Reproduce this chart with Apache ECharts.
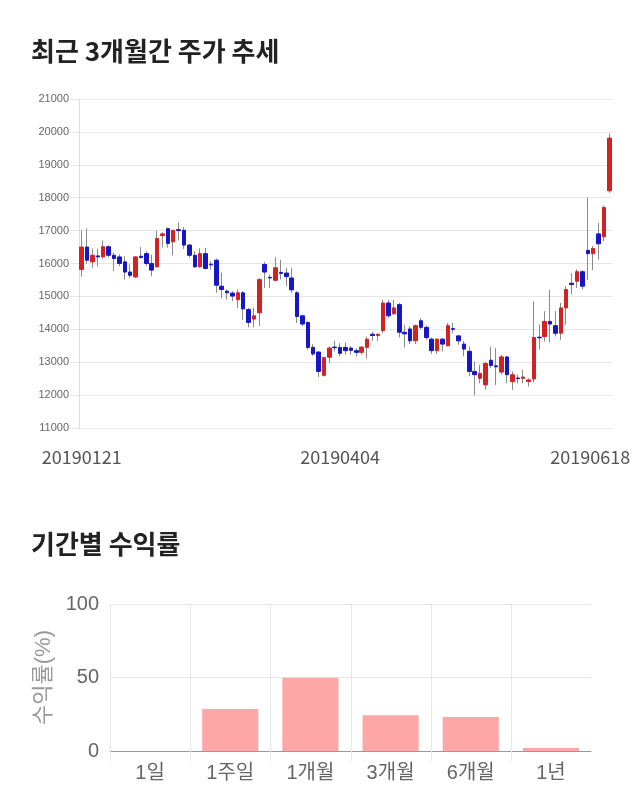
<!DOCTYPE html>
<html>
<head>
<meta charset="utf-8">
<script src="https://cdn.jsdelivr.net/npm/echarts@6/dist/echarts.min.js"></script>
<style>
html,body{margin:0;padding:0;background:#fff;}
#main{width:640px;height:810px;}
</style>
</head>
<body>
<div id="main"></div>
<script>
// ---- candlestick data (trading days) ----
var dates = [
'20190121','20190122','20190123','20190124','20190125','20190128','20190129','20190130','20190131',
'20190207','20190208','20190211','20190212','20190213','20190214','20190215','20190218','20190219','20190220','20190221','20190222','20190225','20190226','20190227','20190228',
'20190304','20190305','20190306','20190307','20190308','20190311','20190312','20190313','20190314','20190315','20190318','20190319','20190320','20190321','20190322','20190325','20190326','20190327','20190328','20190329',
'20190401','20190402','20190403',
'20190404','20190405','20190408','20190409','20190410','20190411','20190412','20190415','20190416','20190417','20190418','20190419','20190422','20190423','20190424','20190425','20190426','20190429','20190430',
'20190502','20190503','20190507','20190508','20190509','20190510','20190513','20190514','20190515','20190516','20190517','20190520','20190521','20190522','20190523','20190524','20190527','20190528','20190529','20190530','20190531',
'20190603','20190604','20190605','20190607','20190610','20190611','20190612','20190613','20190614','20190617','20190618'
];
var opens = [
15820,16500,16050,16230,16200,16510,16250,16200,16050,15740,15590,16220,16300,16000,15900,16850,17060,16660,17030,17010,
16560,16250,15900,16300,15980,16100,15310,15160,15100,14900,15110,14600,14310,14500,15970,15580,15490,15730,15710,15560,
15110,14410,14210,13450,13310,12600,13150,13460,13450,13450,13430,13350,13300,13450,13850,13810,13960,14800,14470,14750,
13910,14010,13650,14260,14060,13700,13350,13700,13500,14020,13800,13550,13330,12720,12510,12310,13060,12890,12700,13160,
12410,12520,12510,12410,12490,13760,13780,14240,14110,13880,14650,15400,15460,15750,16400,16300,16900,16810,18210
];
var closes = [
16500,16100,16250,16200,16510,16250,16150,16000,15740,15640,16200,16180,16000,15800,16760,16900,16610,17010,17000,16560,
16250,15900,16300,15850,15960,15340,15210,15110,15010,15110,14620,14210,14410,15510,15740,15560,15870,15700,15600,15200,
14390,14160,13450,13250,12720,13140,13430,13440,13270,13350,13360,13300,13460,13700,13810,13850,14800,14410,14650,13910,
13860,13650,14110,14060,13750,13350,13700,13550,14110,14000,13650,13400,12720,12620,12660,12960,12900,12860,13160,12620,
12620,12500,12550,12460,13750,13740,14240,14160,13880,14650,15210,15360,15750,15310,16300,16460,16600,17700,19810
];
var lows = [
15600,16000,15870,15900,16150,16180,15770,15920,15510,15560,15560,16150,15920,15610,15870,16480,16480,16250,16700,16440,
16180,15870,15870,15820,15820,15110,14950,14900,14850,14650,14290,14060,14060,14090,15260,15260,15460,15510,15310,15110,
14190,14090,13380,13190,12550,12570,12970,13330,13190,13230,13230,13170,13230,13110,13650,13650,13890,14350,14450,13750,
13450,13550,13550,13990,13680,13250,13250,13330,13480,13880,13530,13180,12570,12000,12360,12160,12820,12310,12620,12360,
12160,12360,12360,12260,12390,13380,13630,13600,13780,13680,14140,15060,15260,15210,15500,15800,16120,16680,18150
];
var highs = [
17000,17070,16450,16450,16700,16550,16330,16280,16220,15980,16220,16500,16370,16270,17000,16950,17090,17020,17250,17110,
16600,16370,16460,16470,16070,16150,15720,15210,15160,15210,15160,14650,14650,15560,16050,15670,16190,16110,15870,15870,
15160,14440,14240,13550,13330,13170,13480,13650,13580,13600,13480,13430,13480,13780,13930,13880,14900,14900,14900,14800,
14140,14090,14140,14340,14110,13750,13730,13730,14190,14190,13830,13650,13480,13020,12920,13010,13470,13430,13220,13170,
12720,12620,12770,12510,14850,14140,14550,15200,14550,14800,15310,15710,15820,15790,18000,16530,17230,17760,19950
];
var priceTicks = [11000, 21000, 1000]; // min, max, step

// ---- period return data ----
var periods = ['1일', '1주일', '1개월', '3개월', '6개월', '1년'];
var returns = [0, 28.6, 49.8, 24.3, 23.1, 2.0];
var returnTicks = [0, 100, 50]; // min, max, step

// ---- build series data from arrays ----
var fullCandles = dates.map(function (d, i) { return [opens[i], closes[i], lows[i], highs[i]]; });
var bodies = dates.map(function (d, i) {
  return [opens[i], closes[i], Math.min(opens[i], closes[i]), Math.max(opens[i], closes[i])];
});
var boundaries = periods.map(function (p, i) { return [i]; }); // left edge of every period band
var UP = '#d42222', DOWN = '#1616c4', WICK = '#8a8a8a';
var labelIdx = [0, 48, dates.length - 1];
var FONT = "'Liberation Sans', 'Noto Sans CJK KR', sans-serif";
var KFONT = "'Noto Sans CJK KR', sans-serif";
var GRIDC = '#e6e6e6';

var chart = echarts.init(document.getElementById('main'), null, {renderer: 'canvas'});
chart.setOption({
  animation: false,
  backgroundColor: '#fff',
  title: [
    {text: '최근 3개월간 주가 추세', left: 26, top: 33,
     textStyle: {fontSize: 26, fontWeight: 'bold', color: '#222', fontFamily: KFONT}},
    {text: '기간별 수익률', left: 26, top: 526,
     textStyle: {fontSize: 26, fontWeight: 'bold', color: '#222', fontFamily: KFONT}}
  ],
  grid: [
    {left: 79, right: 28, top: 99, bottom: 382},
    {left: 110, right: 49, top: 604, bottom: 59}
  ],
  xAxis: [
    {type: 'category', gridIndex: 0, data: dates, boundaryGap: true,
     axisLine: {show: false}, axisTick: {show: false}, splitLine: {show: false},
     axisLabel: {
       interval: function (idx) { return labelIdx.indexOf(idx) >= 0; },
       margin: 20, fontSize: 18, color: '#555', fontFamily: KFONT,
       formatter: function (v, idx) { return idx === dates.length - 1 ? '{r|' + v + '}' : v; },
       rich: {r: {fontSize: 18, color: '#555', fontFamily: KFONT, padding: [0, 38, 0, 0]}}
     }},
    {type: 'category', gridIndex: 1, data: periods, boundaryGap: true, position: 'bottom',
     axisLine: {show: true, lineStyle: {color: '#999'}},
     axisTick: {show: false}, splitLine: {show: false},
     axisLabel: {fontSize: 20, color: '#666', margin: 12, fontFamily: FONT}},
    // helper scale for the band boundary lines
    {type: 'value', gridIndex: 1, position: 'bottom', min: 0, max: periods.length, show: false}
  ],
  yAxis: [
    {type: 'value', gridIndex: 0, min: priceTicks[0], max: priceTicks[1], interval: priceTicks[2],
     axisLine: {show: true, lineStyle: {color: '#dddddd'}},
     axisTick: {show: true, length: 9, lineStyle: {color: GRIDC}},
     splitLine: {show: true, lineStyle: {color: GRIDC}},
     axisLabel: {fontSize: 11, color: '#666', margin: 10, fontFamily: FONT,
                 formatter: function (v) { return String(v); }}},
    {type: 'value', gridIndex: 1, min: returnTicks[0], max: returnTicks[1], interval: returnTicks[2],
     name: '수익률(%)', nameLocation: 'middle', nameGap: 55,
     nameTextStyle: {fontSize: 22, color: '#999', fontFamily: FONT},
     axisLine: {show: false}, axisTick: {show: false},
     splitLine: {show: true, lineStyle: {color: GRIDC}},
     axisLabel: {fontSize: 20, color: '#666', margin: 11, fontFamily: FONT}}
  ],
  series: [
    {type: 'candlestick', xAxisIndex: 0, yAxisIndex: 0, data: fullCandles, barWidth: 1,
     itemStyle: {color: WICK, color0: WICK, borderColor: WICK, borderColor0: WICK, borderWidth: 1}},
    {type: 'candlestick', xAxisIndex: 0, yAxisIndex: 0, data: bodies, barWidth: 4,
     itemStyle: {color: UP, color0: DOWN, borderColor: UP, borderColor0: DOWN, borderWidth: 1}},
    {type: 'custom', xAxisIndex: 2, yAxisIndex: 1, data: boundaries, silent: true, z: 1,
     renderItem: function (params, api) {
       var top = api.coord([api.value(0), returnTicks[1]]);
       var bot = api.coord([api.value(0), returnTicks[0]]);
       var x = Math.round(top[0]) + 0.5;
       return {type: 'line', shape: {x1: x, y1: top[1], x2: x, y2: bot[1] + 10},
               style: {stroke: GRIDC, lineWidth: 1}};
     }},
    {type: 'bar', xAxisIndex: 1, yAxisIndex: 1, data: returns, barWidth: '70%', z: 2,
     itemStyle: {color: '#ffa6a6', borderWidth: 0}}
  ]
});
</script>
</body>
</html>
